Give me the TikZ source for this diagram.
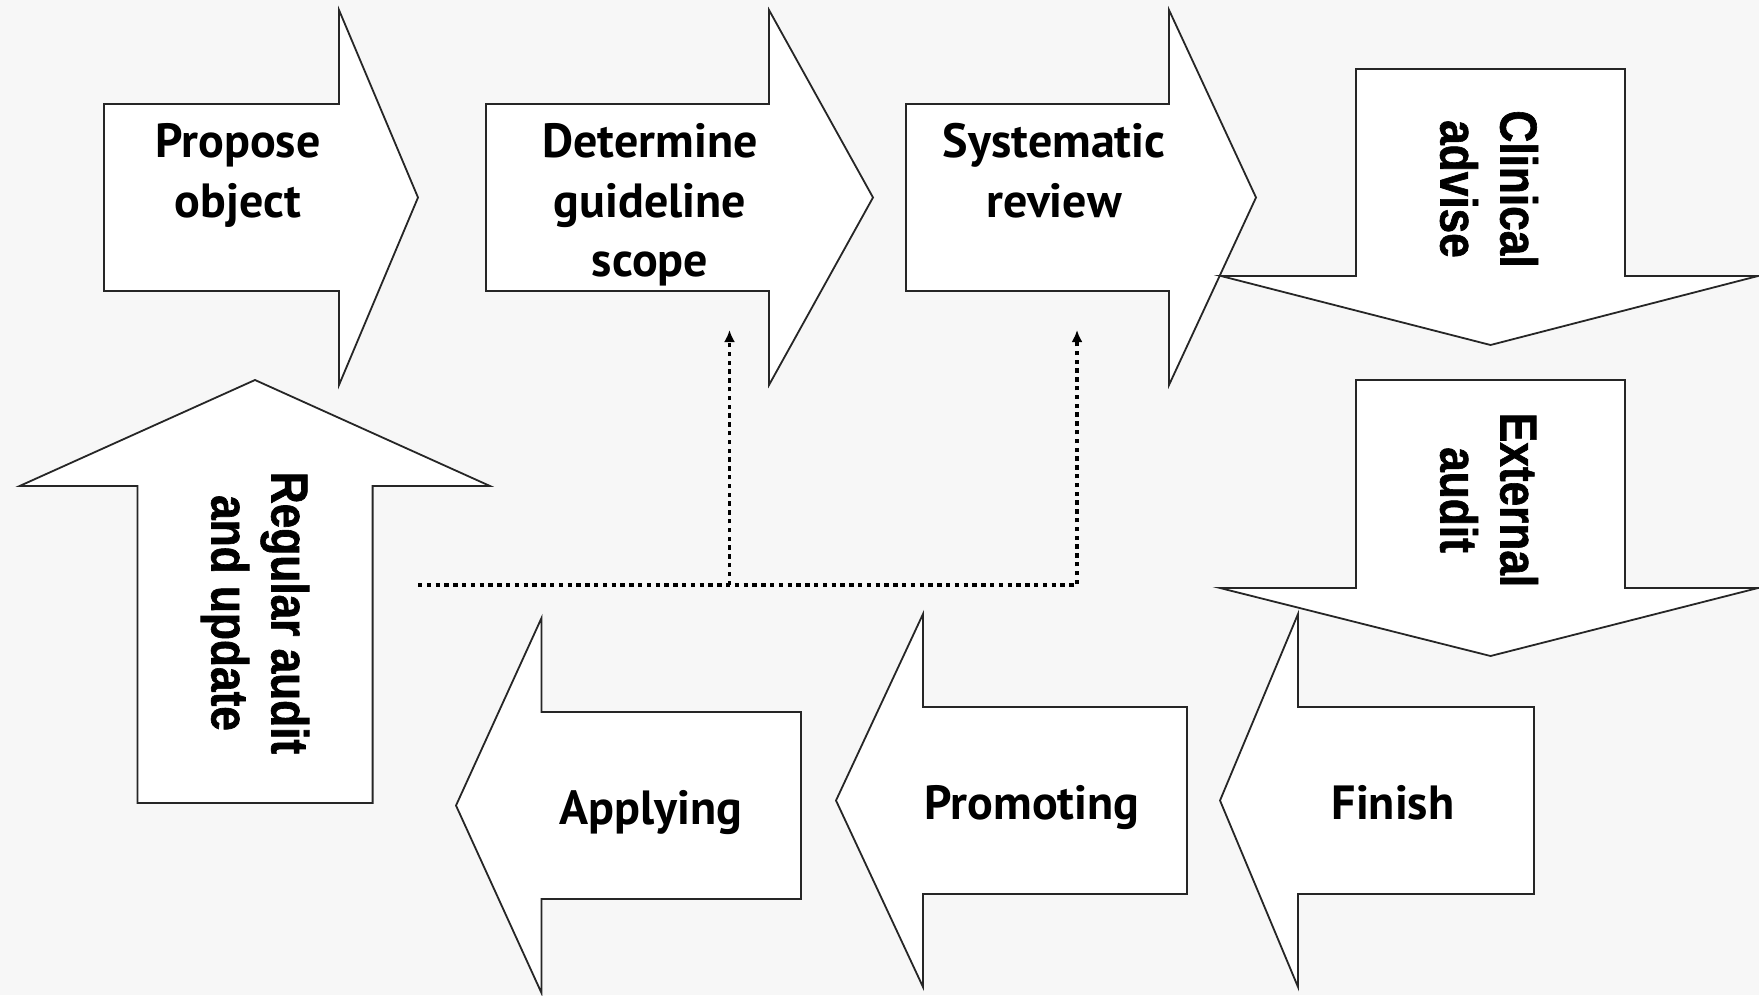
\documentclass[tikz,border=0pt]{standalone}
\usepackage{fontspec}
\setmainfont{PT Sans}
\newfontfamily\sidefont[FakeStretch=0.85,FakeBold=1.2]{Liberation Sans}
\usetikzlibrary{arrows.meta}
\definecolor{paper}{HTML}{F7F7F7}

\begin{document}
\begin{tikzpicture}[x=0.5pt, y=-0.5pt,
    block/.style={draw=black!85, fill=white, line width=0.9pt, line join=miter},
    step label/.style={font=\bfseries\fontsize{24}{29.8}\selectfont, align=center, inner sep=0pt},
    side label/.style={font=\sidefont\bfseries\fontsize{26}{30}\selectfont, align=center, inner sep=0pt, rotate=-90},
    feedback/.style={line width=1.8pt, dash pattern=on 2.2pt off 2.2pt, -{Latex[length=6pt, width=5.5pt]}}]
    \fill[paper] (0,0) rectangle (1759,995);
    \useasboundingbox (0,0) rectangle (1759,995);

    % top row, pointing right
    \draw[block] (104,104) -- (339,104) -- (339,10) -- (418,197.5) -- (339,385) -- (339,291) -- (104,291) -- cycle;
    \draw[block] (486,104) -- (769,104) -- (769,10) -- (873,197.5) -- (769,385) -- (769,291) -- (486,291) -- cycle;
    \draw[block] (906,104) -- (1169,104) -- (1169,10) -- (1256,197.5) -- (1169,385) -- (1169,291) -- (906,291) -- cycle;

    % right column, pointing down
    \draw[block] (1356,69) -- (1625,69) -- (1625,276) -- (1758,276) -- (1490.5,345) -- (1221,276) -- (1356,276) -- cycle;
    \draw[block] (1356,380) -- (1625,380) -- (1625,588) -- (1758,588) -- (1490.5,656) -- (1220,588) -- (1356,588) -- cycle;

    % bottom row, pointing left
    \draw[block] (1534,707) -- (1298,707) -- (1298,614) -- (1220,800.5) -- (1298,987) -- (1298,894) -- (1534,894) -- cycle;
    \draw[block] (1187,707) -- (923,707) -- (923,614) -- (836,800.5) -- (923,987) -- (923,894) -- (1187,894) -- cycle;
    \draw[block] (801,712) -- (541.5,712) -- (541.5,618) -- (456,805.5) -- (541.5,993) -- (541.5,899) -- (801,899) -- cycle;

    % left column, pointing up
    \draw[block] (137.5,803) -- (137.5,486) -- (19.6,486) -- (255,380) -- (490,486) -- (372.6,486) -- (372.6,803) -- cycle;

    \node[step label, anchor=north] (propose) at (238,123) {Propose\\object};
    \node[step label, anchor=north] (scope) at (650,123) {Determine\\guideline\\scope};
    \node[step label, anchor=north] (review) at (1054,123) {Systematic\\review};
    \node[side label] (clinical) at (1489,189) {Clinical\\advise};
    \node[side label] (external) at (1489,500) {External\\audit};
    \node[step label, anchor=base] (finish) at (1393,819) {Finish};
    \node[step label, anchor=base] (promoting) at (1032,819) {Promoting};
    \node[step label, anchor=base] (applying) at (651,824) {Applying};
    \node[side label] (regular) at (255,613) {Regular audit\\and update};

    % feedback from the audit
    \coordinate (feed) at (418,585);
    \coordinate (split) at (729.5,585);
    \coordinate (corner) at (1077,585);
    \coordinate (to scope) at (729.5,330);
    \coordinate (to review) at (1077,330);
    \draw[feedback] (feed) -- (corner) -- (to review);
    \draw[feedback] (split) -- (to scope);
\end{tikzpicture}
\end{document}
